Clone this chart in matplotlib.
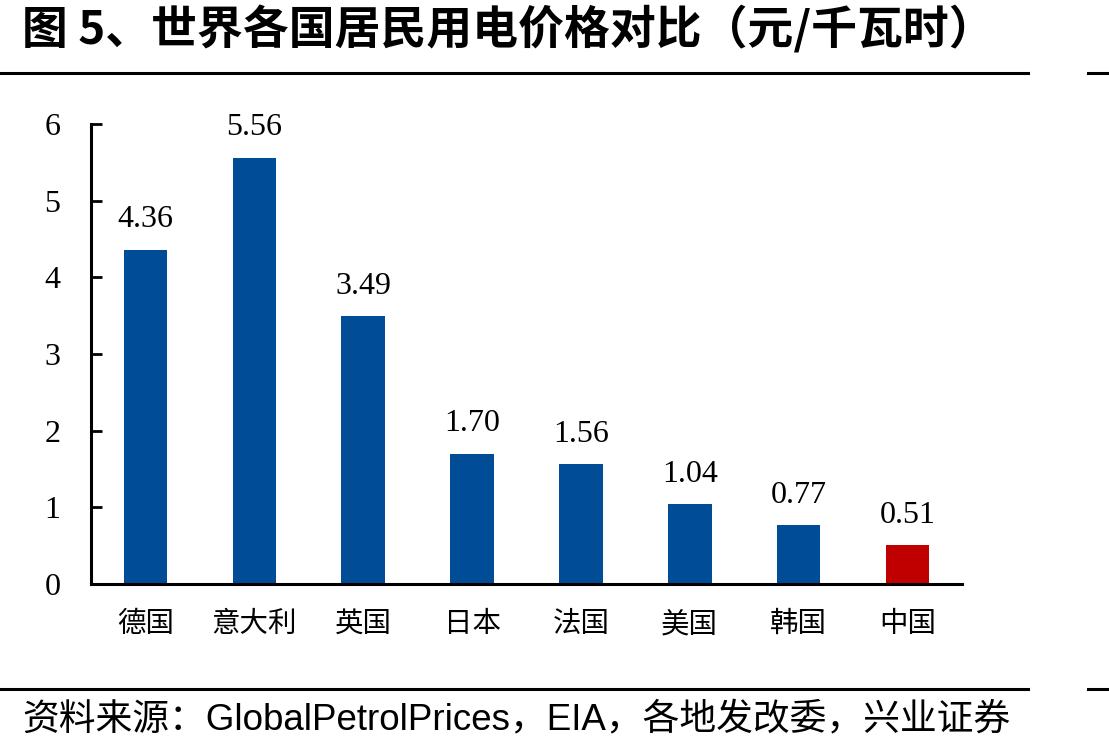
import matplotlib
matplotlib.use("Agg")
import matplotlib.pyplot as plt
from matplotlib.lines import Line2D

countries = ["德国", "意大利", "英国", "日本", "法国", "美国", "韩国", "中国"]
prices = [4.36, 5.56, 3.49, 1.70, 1.56, 1.04, 0.77, 0.51]
colors = ["#004C97"] * 7 + ["#C00000"]
yticks = [0, 1, 2, 3, 4, 5, 6]

CJK = ["Noto Sans CJK SC", "DejaVu Sans"]
SERIF = ["Liberation Serif", "Noto Sans CJK SC"]
SANS = ["Liberation Sans", "Noto Sans CJK SC"]

fig = plt.figure(figsize=(11.09, 7.53), dpi=100)
ax = fig.add_axes([0.0821, 0.2244, 0.7853, 0.6109])

x = range(len(countries))
ax.bar(x, prices, width=0.4, color=colors)
for i, v in enumerate(prices):
    ax.text(i, v + 0.2, f"{v:.2f}", ha="center", va="bottom", fontsize=23, family=SERIF)

ax.set_xlim(-0.5, len(countries) - 0.5)
ax.set_ylim(0, 6)
ax.set_yticks(yticks)
ax.set_yticklabels([str(t) for t in yticks], family=SERIF, fontsize=23)
ax.set_xticks(list(x))
ax.set_xticklabels(countries, family=CJK, fontsize=20.5)
ax.tick_params(axis="y", direction="in", length=8, width=2, pad=22)
ax.tick_params(axis="x", length=0, pad=18)
for s in ["top", "right"]:
    ax.spines[s].set_visible(False)
ax.spines["left"].set_linewidth(2.2)
ax.spines["bottom"].set_linewidth(2.2)

fig.text(0.02, 1 - 30 / 753, "图 5、世界各国居民用电价格对比（元/千瓦时）", fontsize=33,
         fontweight="bold", family=CJK, va="center")
for yy in (1 - 73 / 753, 1 - 689 / 753):
    fig.add_artist(Line2D([0, 1028 / 1109], [yy, yy], color="black", lw=2.2))
    fig.add_artist(Line2D([1088 / 1109, 1], [yy, yy], color="black", lw=2.2))
fig.text(0.02, 1 - 720 / 753, "资料来源：GlobalPetrolPrices，EIA，各地发改委，兴业证券",
         fontsize=26.5, family=SANS, va="center")

fig.savefig("out.png", dpi=100)
